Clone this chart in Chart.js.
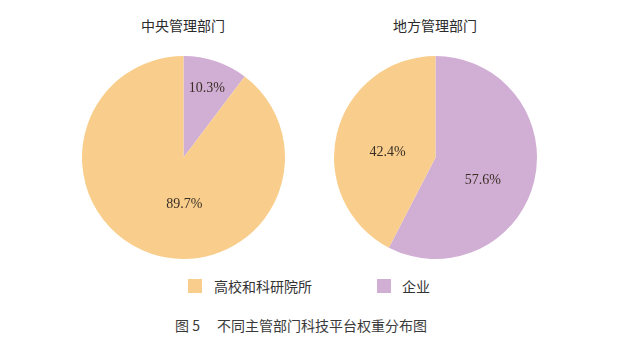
<!DOCTYPE html>
<html><head><meta charset="utf-8">
<script src="https://cdn.jsdelivr.net/npm/chart.js@4"></script>
<style>
html,body{margin:0;padding:0;background:#fff;width:624px;height:356px;overflow:hidden;font-family:"Noto Sans CJK SC","Noto Sans",sans-serif;}
.abs{position:absolute;}
.title{font-size:14px;color:#2b2b2b;text-align:center;width:160px;line-height:20px;}
.leg{font-size:14px;color:#333;line-height:20px;}
.sw{width:14px;height:14px;}
.cap{font-size:14px;color:#3a3a3a;line-height:20px;white-space:pre;}
</style></head>
<body>
<div class="abs title" id="t1" style="left:103px;top:15px;"></div>
<div class="abs title" id="t2" style="left:355px;top:15px;"></div>
<div class="abs" style="left:78px;top:52px;"><canvas id="c1" width="211" height="211"></canvas></div>
<div class="abs" style="left:330px;top:52px;"><canvas id="c2" width="211" height="211"></canvas></div>
<div class="abs sw" id="sw1" style="left:188px;top:279px;"></div>
<div class="abs leg" id="l1" style="left:214px;top:276px;"></div>
<div class="abs sw" id="sw2" style="left:377px;top:279px;"></div>
<div class="abs leg" id="l2" style="left:402px;top:276px;"></div>
<div class="abs cap" id="capA" style="left:175px;top:315px;"></div>
<div class="abs cap" id="capB" style="left:217px;top:315px;"></div>
<script>
const chartTitles = ["中央管理部门", "地方管理部门"];
const categories = ["企业", "高校和科研院所"];
const centralValues = [10.3, 89.7];
const localValues = [57.6, 42.4];
const legendOrder = ["高校和科研院所", "企业"];
const captionNumber = "图 5";
const captionText = "不同主管部门科技平台权重分布图";
const colors = {"企业": "#D1AED4", "高校和科研院所": "#F9CE8C"};

document.getElementById('t1').textContent = chartTitles[0];
document.getElementById('t2').textContent = chartTitles[1];
document.getElementById('l1').textContent = legendOrder[0];
document.getElementById('l2').textContent = legendOrder[1];
document.getElementById('sw1').style.background = colors[legendOrder[0]];
document.getElementById('sw2').style.background = colors[legendOrder[1]];
document.getElementById('capA').textContent = captionNumber;
document.getElementById('capB').textContent = captionText;

const labelPlugin = {
  id: 'pctLabels',
  afterDatasetsDraw(chart, args, opts) {
    const ctx = chart.ctx;
    const meta = chart.getDatasetMeta(0);
    const data = chart.data.datasets[0].data;
    ctx.save();
    ctx.font = '14px "Liberation Serif", "Times New Roman", serif';
    ctx.fillStyle = '#3b2f25';
    ctx.textAlign = 'center';
    ctx.textBaseline = 'middle';
    meta.data.forEach((arc, i) => {
      const p = arc.getProps(['x','y','startAngle','endAngle','outerRadius'], true);
      const pos = opts.pos[i];
      const mid = (p.startAngle + p.endAngle) / 2 + pos.da * Math.PI / 180;
      const r = p.outerRadius * pos.r;
      ctx.fillText(data[i].toFixed(1) + '%', p.x + Math.cos(mid) * r, p.y + Math.sin(mid) * r);
    });
    ctx.restore();
  }
};

function makePie(id, values, pos, pad) {
  new Chart(document.getElementById(id), {
    type: 'pie',
    data: {
      labels: categories,
      datasets: [{
        data: values,
        backgroundColor: categories.map(c => colors[c]),
        borderWidth: 0
      }]
    },
    options: {
      responsive: false,
      animation: false,
      layout: {padding: pad},
      plugins: {
        legend: {display: false},
        tooltip: {enabled: false},
        pctLabels: {pos: pos}
      }
    },
    plugins: [labelPlugin]
  });
}

makePie('c1', centralValues, [{r:0.72, da:0}, {r:0.46, da:-19.5}], {left:4, right:4, top:4, bottom:4});
makePie('c2', localValues, [{r:0.515, da:11.7}, {r:0.475, da:-7.2}], {left:3.5, right:3.5, top:4, bottom:4});
</script>
</body></html>
